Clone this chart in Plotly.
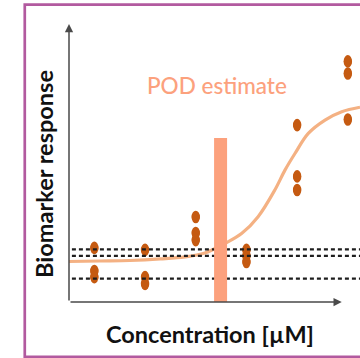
import plotly.graph_objects as go

# ---- data ----
conc_levels = [1, 2, 3, 4, 5, 6]
resp_col1 = [2.15, 1.23, 0.99]
resp_col2 = [2.07, 0.99, 0.72]
resp_col3 = [3.38, 2.74, 2.46]
resp_col4 = [2.07, 1.83, 1.59]
resp_col5 = [7.03, 4.99, 4.45]
resp_col6 = [9.56, 9.08, 7.25]
replicates = [resp_col1, resp_col2, resp_col3, resp_col4, resp_col5, resp_col6]

curve_x = [0.50, 1.11, 1.70, 2.30, 2.79, 3.18, 3.58, 3.91, 4.23, 4.56, 4.76, 4.96, 5.22, 5.55, 5.88, 6.24]
curve_y = [1.61, 1.63, 1.65, 1.71, 1.79, 1.95, 2.33, 2.73, 3.39, 4.45, 5.24, 5.91, 6.70, 7.23, 7.56, 7.74]

threshold_levels = [2.09, 1.83, 0.93]

pod_x = 3.49
pod_height = 6.52

pod_label = "POD estimate"
x_title = "Concentration [µM]"
y_title = "Biomarker response"

# ---- styles ----
DOT = "#C55A11"
CURVE = "#F4B183"
POD = "#FCA17D"
FRAME = "#B25A9F"
AXIS = "#4a4a4a"
FONT = "Lato"

X_RANGE = [0.5, 6.24]
Y_RANGE = [0, 12]

pts_x = [c for c, vals in zip(conc_levels, replicates) for _ in vals]
pts_y = [v for vals in replicates for v in vals]

fig = go.Figure()
fig.add_trace(go.Scatter(x=curve_x, y=curve_y, mode="lines",
                         line=dict(color=CURVE, width=3.2, shape="spline"),
                         hoverinfo="skip", showlegend=False))
fig.add_trace(go.Scatter(x=pts_x, y=pts_y, mode="markers",
                         marker=dict(color=DOT, size=8, line=dict(width=0)),
                         showlegend=False))

shapes = []
# outer frame
shapes.append(dict(type="rect", xref="paper", yref="paper",
                   x0=-0.152, x1=1.06, y0=-0.182, y1=0.985,
                   line=dict(color=FRAME, width=2.7), layer="below"))
# oval dots
for xv, yv in zip(pts_x, pts_y):
    shapes.append(dict(type="circle", xref="x", yref="y",
                       xsizemode="pixel", ysizemode="pixel",
                       xanchor=xv, yanchor=yv,
                       x0=-4.2, x1=4.2, y0=-6.3, y1=6.3,
                       fillcolor=DOT, line=dict(width=0), layer="above"))
# dotted threshold lines
for lv in threshold_levels:
    shapes.append(dict(type="line", xref="x domain", yref="y",
                       x0=0.01, x1=1, y0=lv, y1=lv,
                       line=dict(color="#1e1e1e", width=2.3, dash="4px,3px"),
                       layer="above"))
# POD bar
shapes.append(dict(type="rect", xref="x", yref="y",
                   xsizemode="pixel", xanchor=pod_x, x0=-6.5, x1=6.5,
                   y0=0, y1=pod_height,
                   fillcolor=POD, line=dict(width=0), layer="above"))

annotations = [
    # y axis arrow
    dict(x=X_RANGE[0], y=11.05, ax=X_RANGE[0], ay=0, xref="x", yref="y",
         axref="x", ayref="y", text="", showarrow=True,
         arrowhead=2, arrowsize=1.1, arrowwidth=1.5, arrowcolor=AXIS),
    # x axis arrow
    dict(x=5.88, y=0, ax=X_RANGE[0], ay=0, xref="x", yref="y",
         axref="x", ayref="y", text="", showarrow=True,
         arrowhead=2, arrowsize=1.1, arrowwidth=1.5, arrowcolor=AXIS),
    dict(x=3.41, y=8.62, xref="x", yref="y", text=pod_label, showarrow=False,
         font=dict(family=FONT, size=22.5, color=POD, weight=500),
         xanchor="center", yanchor="middle"),
    dict(x=0.4845, y=-0.106, xref="paper", yref="paper", text="<b>" + x_title + "</b>",
         showarrow=False, font=dict(family=FONT, size=23.5, color="#111111"),
         xanchor="center", yanchor="middle"),
    dict(x=-0.086, y=0.424, xref="paper", yref="paper", text="<b>" + y_title + "</b>",
         showarrow=False, textangle=-90,
         font=dict(family=FONT, size=23.5, color="#111111"),
         xanchor="center", yanchor="middle"),
]

fig.update_layout(
    width=360, height=358, autosize=False,
    margin=dict(l=69, r=0, t=0, b=56, pad=0),
    paper_bgcolor="white", plot_bgcolor="white",
    xaxis=dict(range=X_RANGE, visible=False, fixedrange=True),
    yaxis=dict(range=Y_RANGE, visible=False, fixedrange=True),
    shapes=shapes, annotations=annotations, showlegend=False,
)

fig.write_html("out.html", config={"displayModeBar": False},
               post_script="document.body.style.margin='0';document.body.style.overflow='hidden';")
